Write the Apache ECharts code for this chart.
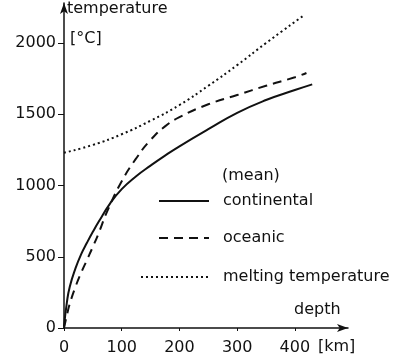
<!DOCTYPE html>
<html>
<head>
<meta charset="utf-8">
<script src="https://cdn.jsdelivr.net/npm/echarts@6/dist/echarts.min.js"></script>
<style>html,body{margin:0;padding:0;background:#fff}#c{width:412px;height:360px}</style>
</head>
<body>
<div id="c"></div>
<script>
// depth [km] and temperature [°C]
const contDepth = [0, 5, 10, 20, 30, 40, 50, 60, 80, 100, 125, 150, 175, 200, 250, 300, 350, 400, 430];
const contTemp  = [10, 180, 290, 420, 520, 600, 675, 745, 875, 975, 1065, 1140, 1210, 1275, 1395, 1510, 1600, 1670, 1710];
const oceDepth  = [0, 5, 10, 20, 30, 40, 50, 60, 75, 100, 125, 150, 175, 200, 250, 300, 350, 400, 420];
const oceTemp   = [0, 90, 170, 290, 390, 480, 570, 665, 820, 1030, 1190, 1320, 1415, 1480, 1570, 1635, 1700, 1760, 1790];
const meltDepth = [0, 50, 100, 150, 200, 250, 300, 350, 414];
const meltTemp  = [1230, 1285, 1360, 1455, 1565, 1700, 1845, 2000, 2190];
const xTicks = [0, 100, 200, 300, 400];
const yTicks = [0, 500, 1000, 1500, 2000];
const seriesNames = ['continental', 'oceanic', 'melting temperature'];

const pairs = (xs, ys) => xs.map((x, i) => [x, ys[i]]);
const FONT = 'DejaVu Sans';
const FS = 16;
const chart = echarts.init(document.getElementById('c'), null, {renderer: 'canvas'});
const legendBase = {
  orient: 'vertical', itemHeight: 14, selectedMode: false, padding: 0,
  itemStyle: {opacity: 0, borderWidth: 0},
  textStyle: {fontFamily: FONT, fontSize: FS, color: '#111', padding: [0, 0, 0, 9]}
};
const font = FS + 'px "DejaVu Sans"';
chart.setOption({
  animation: false,
  backgroundColor: '#fff',
  grid: {left: 64, right: 64, top: 3, bottom: 32, containLabel: false},
  xAxis: {
    type: 'value', min: 0, max: 492, interval: 100,
    splitLine: {show: false},
    axisLine: {show: true, symbol: ['none', 'arrow'], symbolSize: [6, 11], lineStyle: {color: '#111', width: 1.5}},
    axisTick: {show: true, length: 3, customValues: xTicks, lineStyle: {color: '#111'}},
    axisLabel: {customValues: xTicks, margin: 12, fontFamily: FONT, fontSize: FS, color: '#111',
                formatter: v => String(v)}
  },
  yAxis: {
    type: 'value', min: 0, max: 2281, interval: 500,
    splitLine: {show: false},
    axisLine: {show: true, symbol: ['none', 'arrow'], symbolSize: [6, 11], lineStyle: {color: '#111', width: 1.5}},
    axisTick: {show: true, length: 6, customValues: yTicks, lineStyle: {color: '#111'}},
    axisLabel: {customValues: yTicks, margin: 8, fontFamily: FONT, fontSize: FS, color: '#111',
                formatter: v => String(v)}
  },
  legend: [
    Object.assign({}, legendBase, {data: [seriesNames[0]], left: 158, top: 193, itemWidth: 50}),
    Object.assign({}, legendBase, {data: [seriesNames[1]], left: 158, top: 230, itemWidth: 50}),
    Object.assign({}, legendBase, {data: [seriesNames[2]], left: 140, top: 269, itemWidth: 68})
  ],
  graphic: [
    {type: 'text', left: 67, top: 1, style: {text: 'temperature', font: font, fill: '#111'}},
    {type: 'text', left: 70, top: 31, style: {text: '[°C]', font: font, fill: '#111'}},
    {type: 'text', left: 294, top: 302, style: {text: 'depth', font: font, fill: '#111'}},
    {type: 'text', left: 318, top: 339, style: {text: '[km]', font: font, fill: '#111'}},
    {type: 'text', left: 222, top: 168, style: {text: '(mean)', font: font, fill: '#111'}}
  ],
  series: [
    {name: seriesNames[0], type: 'line', smooth: true, symbol: 'none', data: pairs(contDepth, contTemp),
     lineStyle: {color: '#111', width: 2, type: 'solid'}, itemStyle: {color: '#111'}},
    {name: seriesNames[1], type: 'line', smooth: true, symbol: 'none', data: pairs(oceDepth, oceTemp),
     lineStyle: {color: '#111', width: 2, type: [9, 6]}, itemStyle: {color: '#111'}},
    {name: seriesNames[2], type: 'line', smooth: true, symbol: 'none', data: pairs(meltDepth, meltTemp),
     lineStyle: {color: '#111', width: 2, type: [2, 3]}, itemStyle: {color: '#111'}}
  ]
});
</script>
</body>
</html>
